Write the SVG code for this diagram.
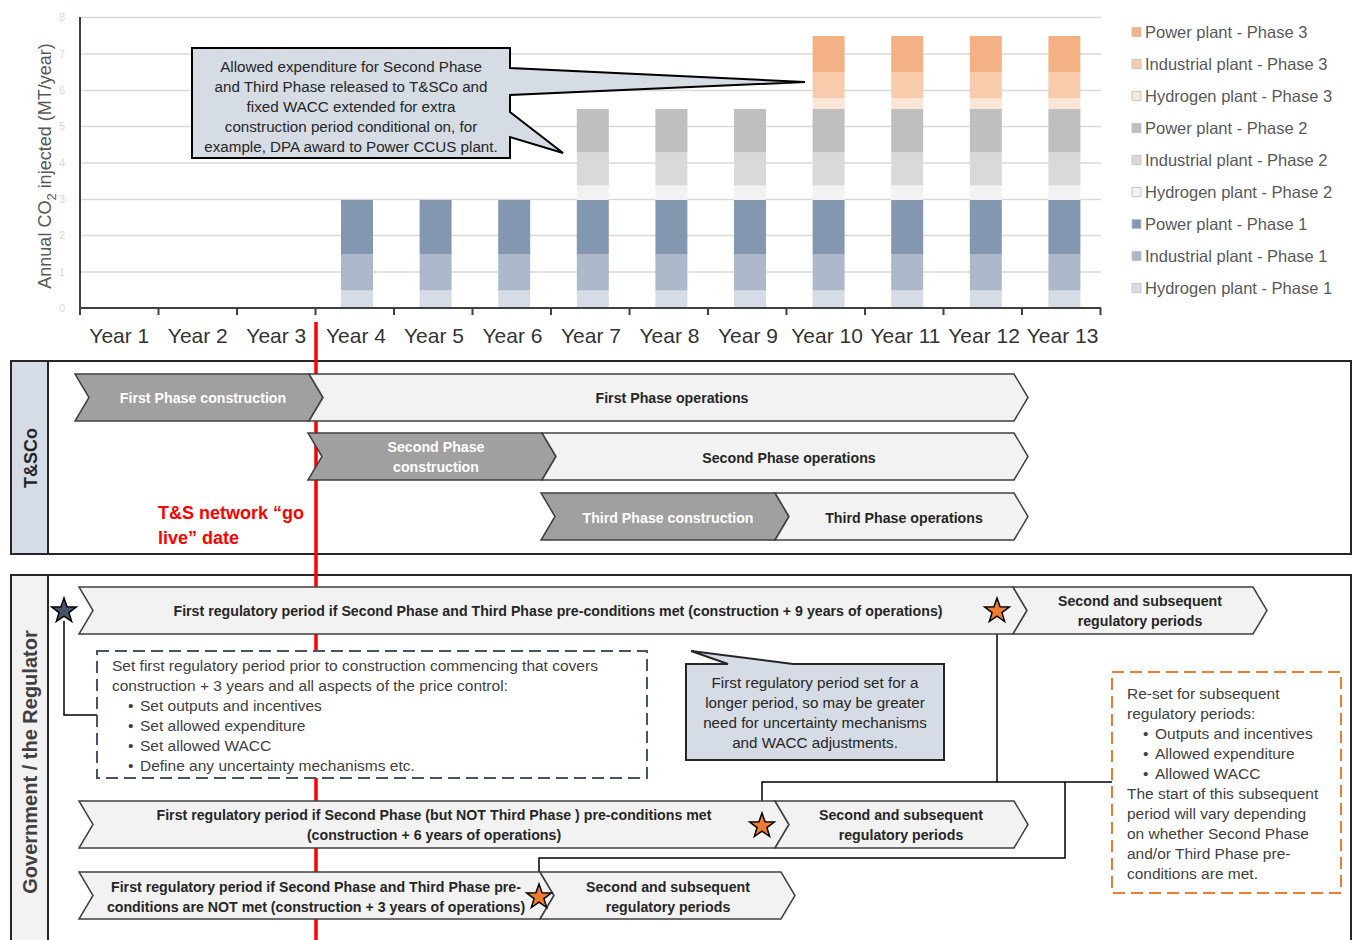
<svg xmlns="http://www.w3.org/2000/svg" width="1353" height="940" viewBox="0 0 1353 940">
<style>
text{font-family:"Liberation Sans",Arial,sans-serif}
.grid{stroke:#D9D9D9;stroke-width:1.5}
.axis{stroke:#404040;stroke-width:2;fill:none}
.yl{font-size:11px;fill:#D9D9D9;text-anchor:middle}
.yr{font-size:21px;fill:#333;text-anchor:middle}
.lg{font-size:16.5px;fill:#595959}
.cd{fill:#A0A0A0;stroke:#404040;stroke-width:1.5}
.cl{fill:#F2F2F2;stroke:#404040;stroke-width:1.5}
.bw{font-size:14.2px;font-weight:bold;fill:#fff;text-anchor:middle}
.bd{font-size:14.2px;font-weight:bold;fill:#262626;text-anchor:middle}
.rg{font-size:15.5px;fill:#404040}
.rc{font-size:15.2px;fill:#262626;text-anchor:middle}
.conn{fill:none;stroke:#000;stroke-width:1.5}
.h1{fill:#D6DCE5}.i1{fill:#ADB9CA}.p1{fill:#8497B0}
.h2{fill:#F2F2F2}.i2{fill:#D9D9D9}.p2{fill:#BFBFBF}
.h3{fill:#FBE5D6}.i3{fill:#F8CBAD}.p3{fill:#F4B183}
.sw{stroke:#BFBFBF;stroke-width:0.8}
</style>
<defs>
<path id="star" d="M0,-13 L3.06,-4.21 L12.36,-4.02 L4.94,1.61 L7.64,10.52 L0,5.2 L-7.64,10.52 L-4.94,1.61 L-12.36,-4.02 L-3.06,-4.21 Z" stroke="#000" stroke-width="1.5"/>
</defs>

<g id="chart">
  <g id="gridlines">
    <line class="grid" x1="80" y1="17.5" x2="1101" y2="17.5"/>
    <line class="grid" x1="80" y1="54" x2="1101" y2="54"/>
    <line class="grid" x1="80" y1="90.5" x2="1101" y2="90.5"/>
    <line class="grid" x1="80" y1="126.5" x2="1101" y2="126.5"/>
    <line class="grid" x1="80" y1="163" x2="1101" y2="163"/>
    <line class="grid" x1="80" y1="199.5" x2="1101" y2="199.5"/>
    <line class="grid" x1="80" y1="235.5" x2="1101" y2="235.5"/>
    <line class="grid" x1="80" y1="272" x2="1101" y2="272"/>
  </g>
  <g id="ylabels">
    <text class="yl" x="62" y="21">8</text>
    <text class="yl" x="62" y="58">7</text>
    <text class="yl" x="62" y="94">6</text>
    <text class="yl" x="62" y="130">5</text>
    <text class="yl" x="62" y="167">4</text>
    <text class="yl" x="62" y="203">3</text>
    <text class="yl" x="62" y="239">2</text>
    <text class="yl" x="62" y="276">1</text>
    <text class="yl" x="62" y="312">0</text>
  </g>
  <text transform="translate(51,166) rotate(-90)" text-anchor="middle" font-size="18" fill="#595959">Annual CO<tspan font-size="13" dy="5">2</tspan><tspan dy="-5"> injected (MT/year)</tspan></text>

  <g id="bars">
    <g id="phase1">
      <rect class="h1" x="341" y="290.5" width="32" height="17.5"/><rect class="i1" x="341" y="254" width="32" height="36.5"/><rect class="p1" x="341" y="200" width="32" height="54"/>
      <rect class="h1" x="419.6" y="290.5" width="32" height="17.5"/><rect class="i1" x="419.6" y="254" width="32" height="36.5"/><rect class="p1" x="419.6" y="200" width="32" height="54"/>
      <rect class="h1" x="498.2" y="290.5" width="32" height="17.5"/><rect class="i1" x="498.2" y="254" width="32" height="36.5"/><rect class="p1" x="498.2" y="200" width="32" height="54"/>
      <rect class="h1" x="576.8" y="290.5" width="32" height="17.5"/><rect class="i1" x="576.8" y="254" width="32" height="36.5"/><rect class="p1" x="576.8" y="200" width="32" height="54"/>
      <rect class="h1" x="655.4" y="290.5" width="32" height="17.5"/><rect class="i1" x="655.4" y="254" width="32" height="36.5"/><rect class="p1" x="655.4" y="200" width="32" height="54"/>
      <rect class="h1" x="734" y="290.5" width="32" height="17.5"/><rect class="i1" x="734" y="254" width="32" height="36.5"/><rect class="p1" x="734" y="200" width="32" height="54"/>
      <rect class="h1" x="812.6" y="290.5" width="32" height="17.5"/><rect class="i1" x="812.6" y="254" width="32" height="36.5"/><rect class="p1" x="812.6" y="200" width="32" height="54"/>
      <rect class="h1" x="891.2" y="290.5" width="32" height="17.5"/><rect class="i1" x="891.2" y="254" width="32" height="36.5"/><rect class="p1" x="891.2" y="200" width="32" height="54"/>
      <rect class="h1" x="969.8" y="290.5" width="32" height="17.5"/><rect class="i1" x="969.8" y="254" width="32" height="36.5"/><rect class="p1" x="969.8" y="200" width="32" height="54"/>
      <rect class="h1" x="1048.4" y="290.5" width="32" height="17.5"/><rect class="i1" x="1048.4" y="254" width="32" height="36.5"/><rect class="p1" x="1048.4" y="200" width="32" height="54"/>
    </g>
    <g id="phase2">
      <rect class="h2" x="576.8" y="185.5" width="32" height="14.5"/><rect class="i2" x="576.8" y="152.5" width="32" height="33"/><rect class="p2" x="576.8" y="109" width="32" height="43.5"/>
      <rect class="h2" x="655.4" y="185.5" width="32" height="14.5"/><rect class="i2" x="655.4" y="152.5" width="32" height="33"/><rect class="p2" x="655.4" y="109" width="32" height="43.5"/>
      <rect class="h2" x="734" y="185.5" width="32" height="14.5"/><rect class="i2" x="734" y="152.5" width="32" height="33"/><rect class="p2" x="734" y="109" width="32" height="43.5"/>
      <rect class="h2" x="812.6" y="185.5" width="32" height="14.5"/><rect class="i2" x="812.6" y="152.5" width="32" height="33"/><rect class="p2" x="812.6" y="109" width="32" height="43.5"/>
      <rect class="h2" x="891.2" y="185.5" width="32" height="14.5"/><rect class="i2" x="891.2" y="152.5" width="32" height="33"/><rect class="p2" x="891.2" y="109" width="32" height="43.5"/>
      <rect class="h2" x="969.8" y="185.5" width="32" height="14.5"/><rect class="i2" x="969.8" y="152.5" width="32" height="33"/><rect class="p2" x="969.8" y="109" width="32" height="43.5"/>
      <rect class="h2" x="1048.4" y="185.5" width="32" height="14.5"/><rect class="i2" x="1048.4" y="152.5" width="32" height="33"/><rect class="p2" x="1048.4" y="109" width="32" height="43.5"/>
    </g>
    <g id="phase3">
      <rect class="h3" x="812.6" y="98" width="32" height="11"/><rect class="i3" x="812.6" y="72" width="32" height="26"/><rect class="p3" x="812.6" y="36" width="32" height="36"/>
      <rect class="h3" x="891.2" y="98" width="32" height="11"/><rect class="i3" x="891.2" y="72" width="32" height="26"/><rect class="p3" x="891.2" y="36" width="32" height="36"/>
      <rect class="h3" x="969.8" y="98" width="32" height="11"/><rect class="i3" x="969.8" y="72" width="32" height="26"/><rect class="p3" x="969.8" y="36" width="32" height="36"/>
      <rect class="h3" x="1048.4" y="98" width="32" height="11"/><rect class="i3" x="1048.4" y="72" width="32" height="26"/><rect class="p3" x="1048.4" y="36" width="32" height="36"/>
    </g>
  </g>

  <g id="axes">
    <path class="axis" d="M80,17 V308 H1101"/>
    <path class="axis" d="M80,308V315 M158.5,308V315 M237,308V315 M315.5,308V315 M394,308V315 M472.5,308V315 M551,308V315 M629.5,308V315 M708,308V315 M786.5,308V315 M865,308V315 M943.5,308V315 M1022,308V315 M1100.5,308V315"/>
  </g>
  <g id="xlabels">
    <text class="yr" x="119.3" y="343">Year 1</text>
    <text class="yr" x="197.8" y="343">Year 2</text>
    <text class="yr" x="276.3" y="343">Year 3</text>
    <text class="yr" x="356" y="343">Year 4</text>
    <text class="yr" x="434" y="343">Year 5</text>
    <text class="yr" x="512.5" y="343">Year 6</text>
    <text class="yr" x="591" y="343">Year 7</text>
    <text class="yr" x="669.5" y="343">Year 8</text>
    <text class="yr" x="748" y="343">Year 9</text>
    <text class="yr" x="827" y="343">Year 10</text>
    <text class="yr" x="905.5" y="343">Year 11</text>
    <text class="yr" x="984" y="343">Year 12</text>
    <text class="yr" x="1062.5" y="343">Year 13</text>
  </g>

  <g id="legend">
    <rect class="p3 sw" x="1132" y="27.5" width="9" height="9"/><text class="lg" x="1145" y="38">Power plant - Phase 3</text>
    <rect class="i3 sw" x="1132" y="59.5" width="9" height="9"/><text class="lg" x="1145" y="70">Industrial plant - Phase 3</text>
    <rect class="h3 sw" x="1132" y="91.5" width="9" height="9"/><text class="lg" x="1145" y="102">Hydrogen plant - Phase 3</text>
    <rect class="p2 sw" x="1132" y="123.5" width="9" height="9"/><text class="lg" x="1145" y="134">Power plant - Phase 2</text>
    <rect class="i2 sw" x="1132" y="155.5" width="9" height="9"/><text class="lg" x="1145" y="166">Industrial plant - Phase 2</text>
    <rect class="h2 sw" x="1132" y="187.5" width="9" height="9"/><text class="lg" x="1145" y="198">Hydrogen plant - Phase 2</text>
    <rect class="p1 sw" x="1132" y="219.5" width="9" height="9"/><text class="lg" x="1145" y="230">Power plant - Phase 1</text>
    <rect class="i1 sw" x="1132" y="251.5" width="9" height="9"/><text class="lg" x="1145" y="262">Industrial plant - Phase 1</text>
    <rect class="h1 sw" x="1132" y="283.5" width="9" height="9"/><text class="lg" x="1145" y="294">Hydrogen plant - Phase 1</text>
  </g>

  <g id="callout-expenditure">
    <path d="M192,48 H510 V68 L805,82 L510,95 V112 L563,153 L510,137 V158 H192 Z" fill="#D6DCE4" stroke="#000" stroke-width="2" stroke-linejoin="miter"/>
    <text class="rc" x="351" y="72">Allowed expenditure for Second Phase</text>
    <text class="rc" x="351" y="92">and Third Phase released to T&amp;SCo and</text>
    <text class="rc" x="351" y="112">fixed WACC extended for extra</text>
    <text class="rc" x="351" y="132">construction period conditional on, for</text>
    <text class="rc" x="351" y="152">example, DPA award to Power CCUS plant.</text>
  </g>
</g>

<g id="tsco-section">
  <rect x="11" y="361" width="1340" height="193" fill="#fff" stroke="#262626" stroke-width="2"/>
  <rect x="11" y="361" width="37" height="193" fill="#D6DCE5" stroke="#262626" stroke-width="2"/>
  <text transform="translate(37,458) rotate(-90)" text-anchor="middle" font-size="18" font-weight="bold" fill="#262626">T&amp;SCo</text>
</g>
<g id="regulator-section">
  <rect x="11" y="575" width="1340" height="375" fill="#fff" stroke="#262626" stroke-width="2"/>
  <rect x="11" y="575" width="37" height="375" fill="#F2F2F2" stroke="#262626" stroke-width="2"/>
  <text transform="translate(37,762) rotate(-90)" text-anchor="middle" font-size="20" font-weight="bold" fill="#404040">Government / the Regulator</text>
</g>

<g id="go-live-line">
  <line x1="316" y1="322" x2="316" y2="940" stroke="#FF0000" stroke-width="3.5"/>
</g>

<g id="go-live-label">
  <text x="158" y="519" font-size="18" font-weight="bold" fill="#FF0000">T&amp;S network “go</text>
  <text x="158" y="544" font-size="18" font-weight="bold" fill="#FF0000">live” date</text>
</g>

<g id="first-phase-construction">
  <path class="cd" d="M75,374 H309 L323,397.5 L309,421 H75 L89,397.5 Z"/>
  <text class="bw" x="203" y="403">First Phase construction</text>
</g>
<g id="first-phase-operations">
  <path class="cl" d="M309,374 H1014 L1028,397.5 L1014,421 H309 L323,397.5 Z"/>
  <text class="bd" x="672" y="403">First Phase operations</text>
</g>
<g id="second-phase-construction">
  <path class="cd" d="M308,433 H542 L556,456.5 L542,480 H308 L322,456.5 Z"/>
  <text class="bw" x="436" y="452">Second Phase</text>
  <text class="bw" x="436" y="472">construction</text>
</g>
<g id="second-phase-operations">
  <path class="cl" d="M542,433 H1014 L1028,456.5 L1014,480 H542 L556,456.5 Z"/>
  <text class="bd" x="789" y="463">Second Phase operations</text>
</g>
<g id="third-phase-construction">
  <path class="cd" d="M541,493 H775 L789,516.5 L775,540 H541 L555,516.5 Z"/>
  <text class="bw" x="668" y="523">Third Phase construction</text>
</g>
<g id="third-phase-operations">
  <path class="cl" d="M775,493 H1014 L1028,516.5 L1014,540 H775 L789,516.5 Z"/>
  <text class="bd" x="904" y="523">Third Phase operations</text>
</g>

<g id="connectors">
  <path class="conn" d="M64,621 V715 H97"/>
  <path class="conn" d="M997,621 V782"/>
  <path class="conn" d="M762,814 V782 H1112"/>
  <path class="conn" d="M1065,782 V858 H539 V885"/>
</g>

<g id="reg-period-full">
  <path class="cl" d="M79,587 H1013 L1027,610.5 L1013,634 H79 L93,610.5 Z"/>
  <text class="bd" x="558" y="616">First regulatory period if Second Phase and Third Phase pre-conditions met (construction + 9 years of operations)</text>
</g>
<g id="reg-subsequent-1">
  <path class="cl" d="M1013,587 H1253 L1267,610.5 L1253,634 H1013 L1027,610.5 Z"/>
  <text class="bd" x="1140" y="606">Second and subsequent</text>
  <text class="bd" x="1140" y="626">regulatory periods</text>
</g>
<g id="reg-period-second">
  <path class="cl" d="M79,801 H775 L789,824.5 L775,848 H79 L93,824.5 Z"/>
  <text class="bd" x="434" y="820">First regulatory period if Second Phase (but NOT Third Phase ) pre-conditions met</text>
  <text class="bd" x="434" y="840">(construction + 6 years of operations)</text>
</g>
<g id="reg-subsequent-2">
  <path class="cl" d="M775,801 H1014 L1028,824.5 L1014,848 H775 L789,824.5 Z"/>
  <text class="bd" x="901" y="820">Second and subsequent</text>
  <text class="bd" x="901" y="840">regulatory periods</text>
</g>
<g id="reg-period-none">
  <path class="cl" d="M79,872 H540 L554,895.5 L540,919 H79 L93,895.5 Z"/>
  <text class="bd" x="316" y="892">First regulatory period if Second Phase and Third Phase pre-</text>
  <text class="bd" x="316" y="912">conditions are NOT met (construction + 3 years of operations)</text>
</g>
<g id="reg-subsequent-3">
  <path class="cl" d="M540,872 H781 L795,895.5 L781,919 H540 L554,895.5 Z"/>
  <text class="bd" x="668" y="892">Second and subsequent</text>
  <text class="bd" x="668" y="912">regulatory periods</text>
</g>

<g id="star-start"><use href="#star" x="64" y="611" fill="#44546A"/></g>
<g id="star-full"><use href="#star" x="997" y="611" fill="#ED7D31"/></g>
<g id="star-second"><use href="#star" x="762" y="826" fill="#ED7D31"/></g>
<g id="star-none"><use href="#star" x="539" y="897" fill="#ED7D31"/></g>

<g id="note-first-period">
  <rect x="97" y="651" width="550" height="127" fill="#fff" stroke="#44546A" stroke-width="2" stroke-dasharray="12 6"/>
  <text class="rg" x="112" y="671">Set first regulatory period prior to construction commencing that covers</text>
  <text class="rg" x="112" y="691">construction + 3 years and all aspects of the price control:</text>
  <text class="rg" x="128" y="711">•</text><text class="rg" x="140" y="711">Set outputs and incentives</text>
  <text class="rg" x="128" y="731">•</text><text class="rg" x="140" y="731">Set allowed expenditure</text>
  <text class="rg" x="128" y="751">•</text><text class="rg" x="140" y="751">Set allowed WACC</text>
  <text class="rg" x="128" y="771">•</text><text class="rg" x="140" y="771">Define any uncertainty mechanisms etc.</text>
</g>

<g id="callout-longer-period">
  <path d="M686,664 H728 L691,651 L793,664 H944 V760 H686 Z" fill="#D6DCE5" stroke="#262626" stroke-width="2"/>
  <text class="rc" x="815" y="688">First regulatory period set for a</text>
  <text class="rc" x="815" y="708">longer period, so may be greater</text>
  <text class="rc" x="815" y="728">need for uncertainty mechanisms</text>
  <text class="rc" x="815" y="748">and WACC adjustments.</text>
</g>

<g id="note-reset">
  <rect x="1112" y="672" width="229" height="221" fill="#fff" stroke="#ED7D31" stroke-width="2" stroke-dasharray="12 6"/>
  <text class="rg" x="1127" y="699">Re-set for subsequent</text>
  <text class="rg" x="1127" y="719">regulatory periods:</text>
  <text class="rg" x="1143" y="739">•</text><text class="rg" x="1155" y="739">Outputs and incentives</text>
  <text class="rg" x="1143" y="759">•</text><text class="rg" x="1155" y="759">Allowed expenditure</text>
  <text class="rg" x="1143" y="779">•</text><text class="rg" x="1155" y="779">Allowed WACC</text>
  <text class="rg" x="1127" y="799">The start of this subsequent</text>
  <text class="rg" x="1127" y="819">period will vary depending</text>
  <text class="rg" x="1127" y="839">on whether Second Phase</text>
  <text class="rg" x="1127" y="859">and/or Third Phase pre-</text>
  <text class="rg" x="1127" y="879">conditions are met.</text>
</g>
</svg>
